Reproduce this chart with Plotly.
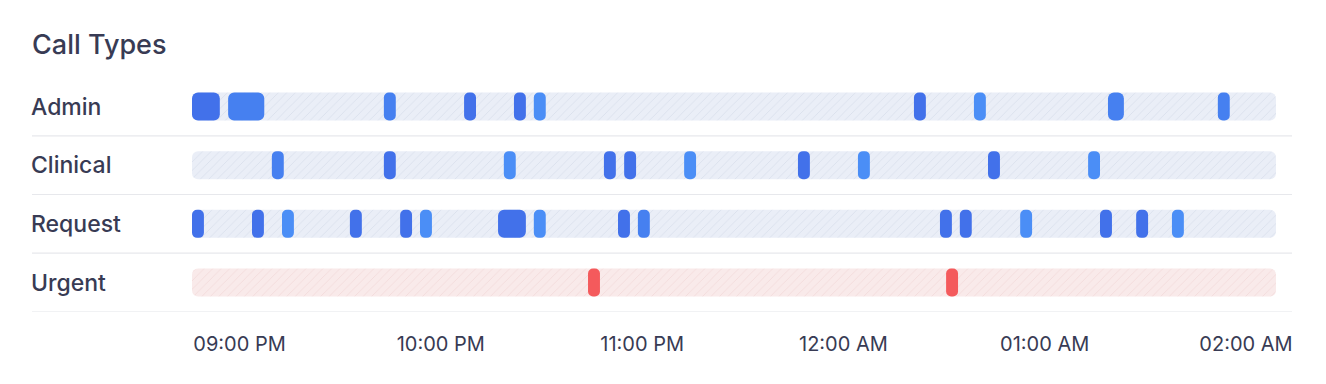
import plotly.graph_objects as go

# ---------------- data ----------------
title_text = "Call Types"
categories = ["Admin", "Clinical", "Request", "Urgent"]
time_labels = ["09:00 PM", "10:00 PM", "11:00 PM", "12:00 AM", "01:00 AM", "02:00 AM"]
window_minutes = 300  # 21:00 -> 02:00

# call start (minutes after 21:00), duration (minutes), tone
admin_start = [0.0, 10.0, 53.1, 75.3, 89.1, 94.6, 199.8, 216.4, 253.5, 283.9]
admin_dur = [7.7, 10.0, 3.3, 3.3, 3.3, 3.3, 3.3, 3.3, 4.4, 3.3]
admin_tone = ["dark", "mid", "mid", "dark", "dark", "light", "dark", "light", "mid", "mid"]

clinical_start = [22.1, 53.1, 86.3, 114.0, 119.6, 136.2, 167.7, 184.3, 220.3, 248.0]
clinical_dur = [3.3] * 10
clinical_tone = ["mid", "dark", "light", "dark", "dark", "light", "dark", "light", "dark", "light"]

request_start = [0.0, 16.6, 24.9, 43.7, 57.6, 63.1, 84.7, 94.6, 117.9, 123.4,
                 207.0, 212.5, 229.2, 251.3, 261.3, 271.2]
request_dur = [3.3, 3.3, 3.3, 3.3, 3.3, 3.3, 7.7, 3.3, 3.3, 3.3,
               3.3, 3.3, 3.3, 3.3, 3.3, 3.3]
request_tone = ["dark", "dark", "light", "dark", "dark", "light", "dark", "light", "dark", "mid",
                "dark", "dark", "light", "dark", "dark", "light"]

urgent_start = [109.6, 208.7]
urgent_dur = [3.3, 3.3]
urgent_tone = ["red", "red"]

# ---------------- styles / layout helpers ----------------
OFF = 8                      # default page (body) margin around the plot div
W, H = 1326 - 2 * OFF, 384 - 2 * OFF


def px_x(x):
    return (x - OFF) / W


def px_y(y):
    return 1 - (y - OFF) / H


TEXT = "#383b54"
FONT = "Inter"
tone_colors = {"dark": "#4271ea", "mid": "#4680f0", "light": "#4b8ef6", "red": "#f45a5c"}
track_bg = {"Admin": "#eaeef7", "Clinical": "#eaeef7", "Request": "#eaeef7", "Urgent": "#f9eaea"}
track_fg = {"Admin": "#d6ddea", "Clinical": "#d6ddea", "Request": "#d6ddea", "Urgent": "#f0d8d8"}
BAR_W = 0.478
RADIUS = 6

rows = {
    "Admin": (admin_start, admin_dur, admin_tone),
    "Clinical": (clinical_start, clinical_dur, clinical_tone),
    "Request": (request_start, request_dur, request_tone),
    "Urgent": (urgent_start, urgent_dur, urgent_tone),
}

fig = go.Figure()

# background tracks
for i, cat in enumerate(categories):
    fig.add_trace(go.Bar(
        orientation="h", y=[i], base=[0], x=[window_minutes], width=BAR_W,
        marker=dict(color=track_bg[cat], line=dict(width=0), cornerradius=RADIUS,
                    pattern=dict(shape="/", bgcolor=track_bg[cat], fgcolor=track_fg[cat],
                                 size=6, solidity=0.12, fillmode="replace")),
        hoverinfo="skip", showlegend=False, name=cat + " track"))

# calls
for i, cat in enumerate(categories):
    s, d, t = rows[cat]
    fig.add_trace(go.Bar(
        orientation="h", y=[i] * len(s), base=s, x=d, width=BAR_W,
        marker=dict(color=[tone_colors[k] for k in t], line=dict(width=0), cornerradius=RADIUS),
        hoverinfo="skip", showlegend=False, name=cat))

# helper traces so the label axes are drawn
fig.add_trace(go.Scatter(x=[0, len(time_labels) - 1], y=[0, 0], xaxis="x2", yaxis="y",
                         mode="markers", marker=dict(opacity=0), hoverinfo="skip", showlegend=False))
fig.add_trace(go.Scatter(x=[0, 0], y=[0, len(categories) - 1], xaxis="x", yaxis="y2",
                         mode="markers", marker=dict(opacity=0), hoverinfo="skip", showlegend=False))

# separators between rows
for i in range(len(categories)):
    fig.add_shape(type="line", xref="paper", yref="y", x0=px_x(32), x1=px_x(1292),
                  y0=i + 0.5, y1=i + 0.5, line=dict(color="#e7e8ec", width=1.2), layer="below")

y_dom = [px_y(311.8), px_y(77.2)]
y_range = [len(categories) - 0.5, -0.5]

fig.update_layout(
    width=W, height=H,
    margin=dict(l=0, r=0, t=0, b=0, autoexpand=False),
    paper_bgcolor="white", plot_bgcolor="rgba(0,0,0,0)",
    barmode="overlay",
    title=dict(text=title_text, x=px_x(32), xanchor="left", xref="paper",
               y=px_y(45), yanchor="middle", yref="container",
               font=dict(family=FONT, size=27, color=TEXT, weight=500)),
    xaxis=dict(domain=[px_x(192), px_x(1276)], range=[0, window_minutes], visible=False,
               fixedrange=True, automargin=False),
    xaxis2=dict(domain=[px_x(239.5), px_x(1246)], range=[0, len(time_labels) - 1], anchor="free",
                position=px_y(330), tickvals=list(range(len(time_labels))), ticktext=time_labels,
                showgrid=False, zeroline=False, showline=False, ticks="", automargin=False,
                tickfont=dict(family=FONT, size=20, color=TEXT)),
    yaxis=dict(domain=y_dom, range=y_range, visible=False, fixedrange=True, automargin=False),
    yaxis2=dict(overlaying="y", side="right", anchor="free", position=px_x(30), range=y_range,
                tickvals=list(range(len(categories))), ticktext=categories, automargin=False,
                showgrid=False, zeroline=False, showline=False, ticks="",
                tickfont=dict(family=FONT, size=23, color=TEXT, weight=500)),
    showlegend=False,
)

fig.write_html("out.html")
